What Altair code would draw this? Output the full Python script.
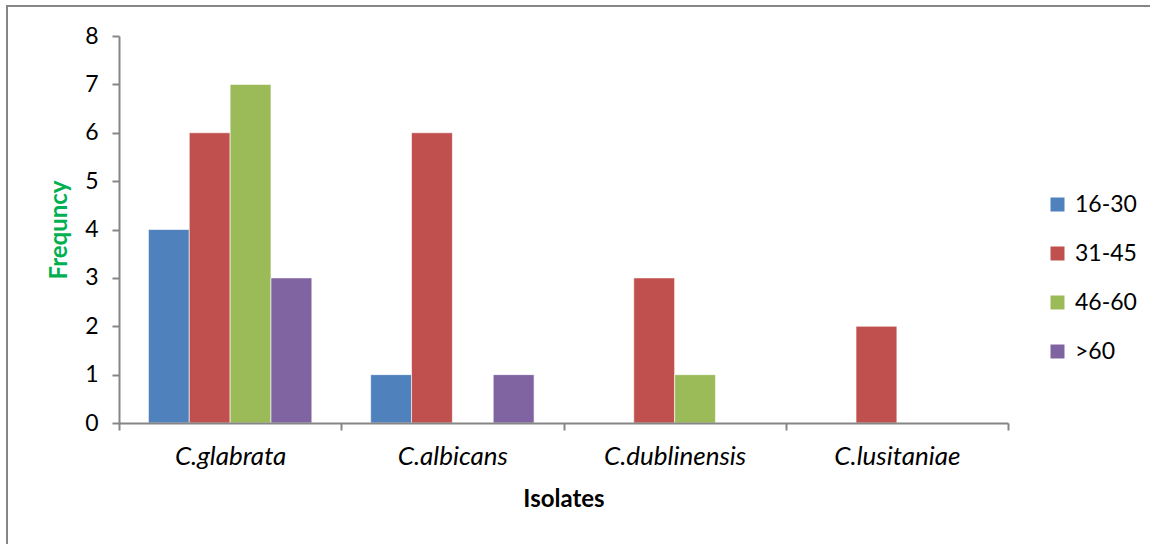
import altair as alt
import pandas as pd

isolates = ["C.glabrata", "C.albicans", "C.dublinensis", "C.lusitaniae"]
age_groups = ["16-30", "31-45", "46-60", ">60"]
freq_16_30 = [4, 1, 0, 0]
freq_31_45 = [6, 6, 3, 2]
freq_46_60 = [7, 0, 1, 0]
freq_over_60 = [3, 1, 0, 0]
colors = ["#4F81BD", "#C0504D", "#9BBB59", "#8064A2"]

rows = []
for grp, vals in zip(age_groups, [freq_16_30, freq_31_45, freq_46_60, freq_over_60]):
    for iso, v in zip(isolates, vals):
        rows.append({"Isolate": iso, "Age": grp, "Frequency": v})
df = pd.DataFrame(rows)

FONT = "Lato"
AXIS_GREY = "#868686"

bars = alt.Chart(df).mark_bar(stroke="white", strokeWidth=0.6).encode(
    x=alt.X("Isolate:N", sort=isolates,
            scale=alt.Scale(paddingInner=0, paddingOuter=0),
            axis=alt.Axis(title="Isolates", labelAngle=0, labelFontStyle="italic",
                          labelFont=FONT, labelFontSize=26, labelColor="black",
                          labelPadding=13, tickSize=7, tickColor=AXIS_GREY,
                          tickWidth=2, domainColor=AXIS_GREY, domainWidth=2,
                          bandPosition=0, tickBand="extent",
                          titleFont=FONT, titleFontSize=24, titleFontWeight="bold",
                          titleColor="black", titlePadding=18, zindex=1)),
    xOffset=alt.XOffset("Age:N", sort=age_groups,
                        scale=alt.Scale(domain=age_groups, paddingInner=0, paddingOuter=0.72)),
    y=alt.Y("Frequency:Q",
            scale=alt.Scale(domain=[0, 8]),
            axis=alt.Axis(title="Frequncy", values=list(range(0, 9)), grid=False,
                          labelFont=FONT, labelFontSize=23, labelColor="black",
                          labelPadding=14, tickSize=7, tickColor=AXIS_GREY,
                          tickWidth=2, domainColor=AXIS_GREY, domainWidth=2,
                          titleFont=FONT, titleFontSize=24, titleFontWeight="bold",
                          titleColor="#00B050", titlePadding=13)),
    color=alt.Color("Age:N", sort=age_groups,
                    scale=alt.Scale(domain=age_groups, range=colors),
                    legend=alt.Legend(title=None, orient="none", legendX=927, legendY=157,
                                      symbolType="square", symbolSize=196,
                                      symbolStrokeWidth=0, labelFont=FONT,
                                      labelFontSize=23, labelColor="black",
                                      labelOffset=6, rowPadding=25)),
)

frame = alt.Chart(pd.DataFrame({"k": [0]})).mark_rect(
    fill=None, stroke=AXIS_GREY, strokeWidth=2
).encode(
    x=alt.value(-112), x2=alt.value(1100), y=alt.value(-30), y2=alt.value(600)
)

chart = alt.layer(frame, bars).properties(
    width=889, height=387,
    autosize=alt.AutoSizeParams(type="none"),
    padding={"left": 119, "top": 36, "right": 142, "bottom": 121},
).configure(background="white").configure_view(stroke=None, strokeWidth=0)

chart.save("out.html", embed_options={"renderer": "svg", "actions": False})
